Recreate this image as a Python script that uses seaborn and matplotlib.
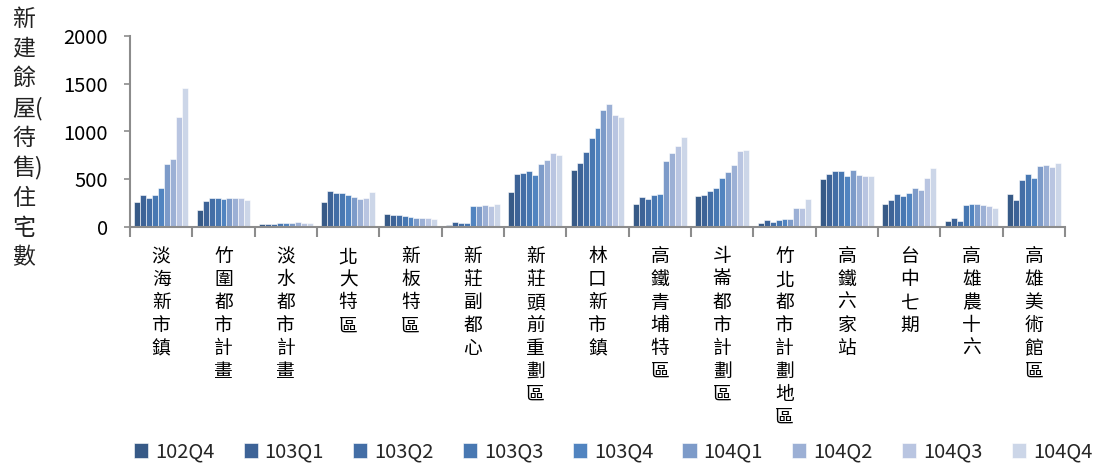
import numpy as np
import pandas as pd
import matplotlib
matplotlib.use("Agg")
import matplotlib.pyplot as plt
import seaborn as sns

districts = ["淡海新市鎮", "竹圍都市計畫", "淡水都市計畫", "北大特區", "新板特區",
             "新莊副都心", "新莊頭前重劃區", "林口新市鎮", "高鐵青埔特區", "斗崙都市計劃區",
             "竹北都市計劃地區", "高鐵六家站", "台中七期", "高雄農十六", "高雄美術館區"]
quarters = ["102Q4", "103Q1", "103Q2", "103Q3", "103Q4", "104Q1", "104Q2", "104Q3", "104Q4"]

q102_4 = [259, 175, 35, 266, 133, 21, 367, 602, 238, 325, 42, 504, 238, 63, 350]
q103_1 = [332, 273, 35, 381, 129, 49, 560, 675, 311, 339, 70, 557, 284, 91, 280]
q103_2 = [308, 304, 35, 360, 122, 45, 570, 784, 294, 381, 56, 588, 350, 66, 487]
q103_3 = [339, 304, 38, 357, 115, 45, 584, 931, 336, 406, 74, 588, 326, 235, 553]
q103_4 = [413, 294, 38, 336, 101, 224, 549, 1040, 350, 508, 88, 539, 354, 245, 511]
q104_1 = [658, 304, 40, 315, 91, 224, 658, 1221, 686, 574, 88, 602, 413, 238, 634]
q104_2 = [717, 301, 48, 294, 91, 234, 703, 1284, 770, 651, 196, 546, 385, 228, 651]
q104_3 = [1155, 304, 45, 301, 91, 224, 777, 1172, 843, 795, 196, 532, 518, 217, 630]
q104_4 = [1452, 280, 45, 367, 80, 238, 749, 1151, 938, 805, 298, 539, 613, 203, 672]

series = [q102_4, q103_1, q103_2, q103_3, q103_4, q104_1, q104_2, q104_3, q104_4]
colors = ["#375a87", "#3d6397", "#436ea6", "#4878b2", "#5184c0",
          "#7d9bc9", "#9cb0d5", "#b9c5e1", "#ccd6e8"]

rows = []
for q, vals in zip(quarters, series):
    for d, v in zip(districts, vals):
        rows.append({"區域": d, "季別": q, "戶數": v})
df = pd.DataFrame(rows)

sns.set_theme(style="white")
plt.rcParams["font.family"] = ["Noto Sans CJK TC", "DejaVu Sans"]

fig = plt.figure(figsize=(10.98, 4.65), dpi=100)
ax = fig.add_axes([130 / 1098, 1 - 227 / 465, (1065 - 130) / 1098, (227 - 36) / 465])

sns.barplot(data=df, x="區域", y="戶數", hue="季別", hue_order=quarters,
            order=districts, palette=colors, saturation=1, width=0.86, gap=0,
            edgecolor="white", linewidth=0.4, ax=ax, legend=True)

ax.set_ylim(0, 2000)
ax.set_xlim(-0.5, len(districts) - 0.5)
ax.set_yticks([0, 500, 1000, 1500, 2000])
ax.tick_params(axis="y", labelsize=14.5, length=4, width=1.2,
               direction="out", left=True, pad=12, color="#8c8c8c")
for lbl in ax.get_yticklabels():
    lbl.set_color("black")

ax.set_xticks(range(len(districts)))
ax.set_xticklabels(["\n".join(d) for d in districts], fontsize=13.5,
                   linespacing=1.12, va="top", color="black")
ax.tick_params(axis="x", which="major", length=0, pad=14)
ax.set_xticks(np.arange(-0.5, len(districts), 1.0), minor=True)
ax.tick_params(axis="x", which="minor", length=7, width=1.5, color="#8c8c8c",
               direction="out", bottom=True)

for side in ["top", "right"]:
    ax.spines[side].set_visible(False)
for side in ["left", "bottom"]:
    ax.spines[side].set_color("#8c8c8c")
    ax.spines[side].set_linewidth(1.5)
ax.set_xlabel("")
ax.set_ylabel("")

ylabel_rows = ["新", "建", "餘", "屋(", "待", "售)", "住", "宅", "數"]
fig.text(12 / 1098, 1 - 8 / 465, "\n".join(ylabel_rows), fontsize=16.5,
         va="top", ha="left", linespacing=1.36, color="#222222")

handles, labels = ax.get_legend_handles_labels()
ax.legend_.remove()
fig.legend(handles, labels, loc="center", bbox_to_anchor=(613 / 1098, 1 - 452 / 465),
           ncol=9, frameon=False, fontsize=14.5, handlelength=0.7, handleheight=0.7,
           handletextpad=0.35, columnspacing=1.45)

fig.savefig("out.png", dpi=100)
